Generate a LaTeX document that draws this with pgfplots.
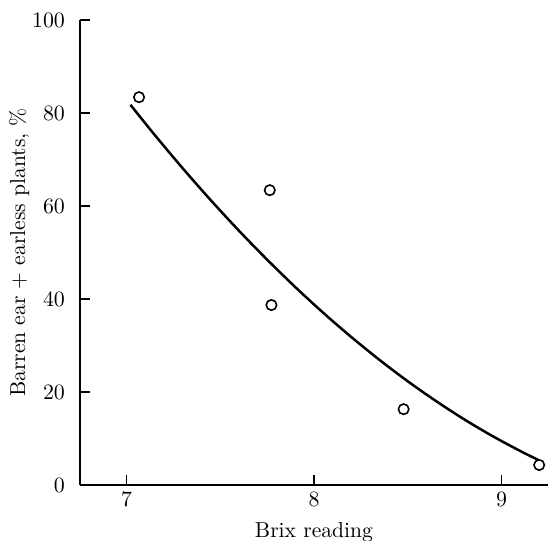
\documentclass[border=0pt]{standalone}
\usepackage{pgfplots}
\pgfplotsset{compat=1.18}

\begin{document}
\begin{tikzpicture}
\begin{axis}[
  scale only axis,
  width=234pt, height=232.5pt,
  xmin=6.751, xmax=9.247,
  ymin=0, ymax=100,
  axis x line*=bottom,
  axis y line*=left,
  axis line style={-, line width=1pt},
  xtick={7,8,9},
  ytick={0,20,40,60,80,100},
  tick align=inside,
  major tick length=5pt,
  tick style={line width=0.8pt, black},
  font=\fontsize{10.8}{13}\selectfont,
  yticklabel style={xshift=-4pt},
  xlabel={Brix reading},
  ylabel={Barren ear + earless plants, \%},
  xlabel style={at={(axis description cs:0.5,0)}, anchor=base, yshift=-26.5pt},
  ylabel style={at={(axis description cs:0,0.5)}, anchor=center, yshift=30.5pt},
  clip=false,
]
% observed points
\addplot[only marks, mark=o, mark size=2.6pt, mark options={line width=0.8pt}]
  coordinates {(7.066,83.4) (7.763,63.4) (7.772,38.7) (8.477,16.3) (9.20,4.3)};
% fitted curve as drawn
\addplot[smooth, line width=1.25pt] coordinates {
  (7.02,81.76) (7.15,75.25) (7.30,68.05) (7.45,61.18) (7.60,54.63)
  (7.75,48.42) (7.90,42.53) (8.05,36.97) (8.20,31.75) (8.35,26.85)
  (8.50,22.28) (8.65,18.04) (8.80,14.12) (8.95,10.54) (9.10,7.29)
  (9.195,5.40)};
\end{axis}
\pgfresetboundingbox
\useasboundingbox (-40pt,-28pt) rectangle (234pt,242.5pt);
\end{tikzpicture}
\end{document}
